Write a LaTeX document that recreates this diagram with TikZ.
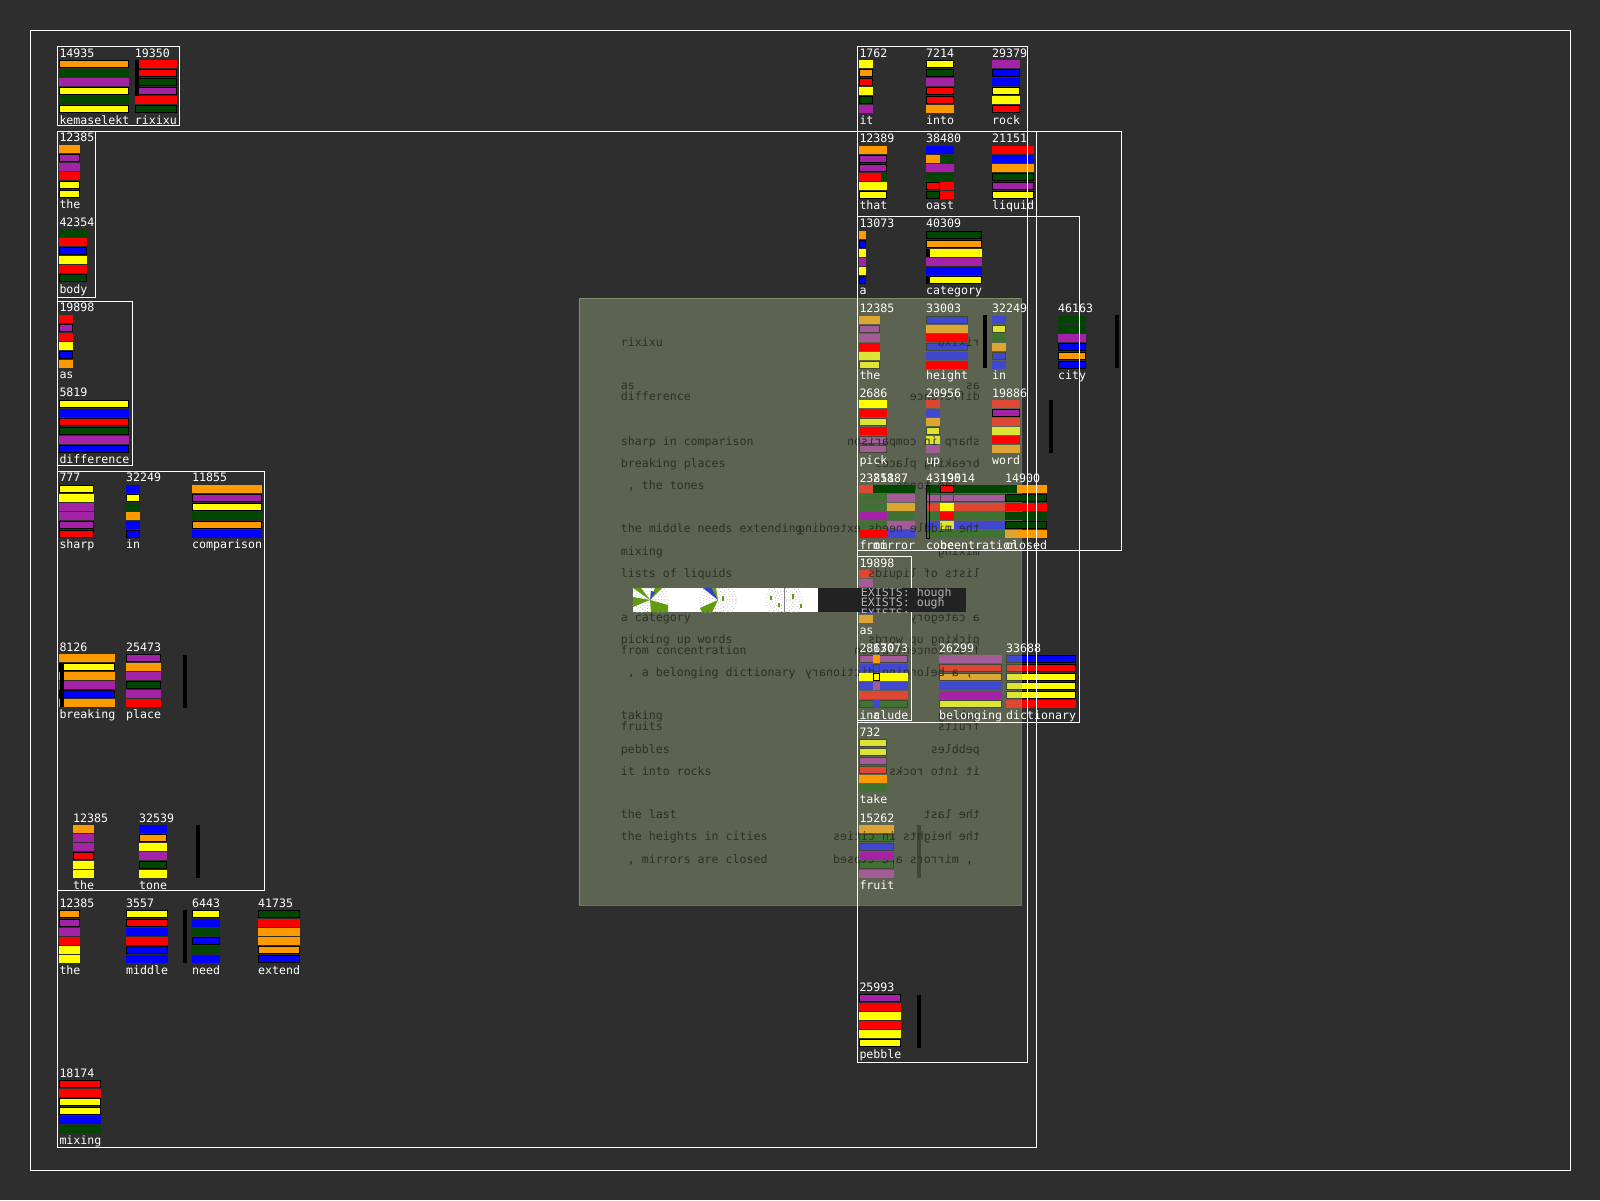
\documentclass[tikz,border=0pt]{standalone}
\usepackage{fontspec}
\newfontfamily\pixfont{DejaVu Sans Mono}
\newcommand{\cellfont}{\pixfont\fontsize{11.6}{12}\selectfont}
\pgfdeclarelayer{bg}
\pgfdeclarelayer{fg}
\pgfsetlayers{bg,main,fg}

\definecolor{bgdark}{HTML}{2E2E2E}
\definecolor{cOr}{HTML}{FF9900}
\definecolor{cDg}{HTML}{004600}
\definecolor{cPu}{HTML}{A322A5}
\definecolor{cYe}{HTML}{FFFF00}
\definecolor{cRe}{HTML}{FF0000}
\definecolor{cBl}{HTML}{0000FF}
\definecolor{ovfill}{RGB}{167,185,136}
\definecolor{ovtext}{HTML}{2C3027}
\definecolor{stripdark}{HTML}{222222}
\definecolor{exgray}{HTML}{B4B4B4}
\definecolor{leaf}{HTML}{629A10}
\definecolor{blu2}{HTML}{3344BB}

\tikzset{
  numtxt/.style={text=white, font=\cellfont, inner sep=0pt, anchor=base west},
  labtxt/.style={numtxt},
  ovtxt/.style={text=ovtext, font=\cellfont, inner sep=0pt, anchor=base west},
  exst/.style={text=exgray, font=\cellfont, inner sep=0pt, anchor=base west},
  boxline/.style={draw=white, line width=1pt},
  needle/.style={fill=black},
}

% one bar: x, top, width, colour, code (odd = outlined, >1 = above the veil)
\newcommand{\barshape}[5]{%
  \fill[#4] (#1,#2) rectangle ++(#3,8);
  \ifodd#5 \draw[black, line width=1pt] (#1+.5,#2+.5) rectangle ++(#3-1,7);\fi}
\newcommand{\cellbar}[5]{%
  \ifnum#5>1
    \begin{pgfonlayer}{fg}\barshape{#1}{#2}{#3}{#4}{#5}\end{pgfonlayer}%
  \else
    \barshape{#1}{#2}{#3}{#4}{#5}%
  \fi}

% word cell: x, y, count, word, bar width, bars
\newcount\cellno
\newcommand{\wcell}[6]{%
  \global\advance\cellno by 1
  \foreach \c/\k [count=\i from 0] in {#6}{\cellbar{#1}{#2+11+9*\i}{#5}{\c}{\k}}
  \begin{pgfonlayer}{fg}
    \node[numtxt] (num\the\cellno) at (#1,#2+8) {#3};
    \node[labtxt] (lab\the\cellno) at (#1,#2+75) {#4};
  \end{pgfonlayer}}

\begin{document}
\begin{tikzpicture}[x=1pt, y=-1pt]
  \begin{pgfonlayer}{bg}
    \fill[bgdark] (0,0) rectangle (1600,1200);
  \end{pgfonlayer}
  \useasboundingbox (0,0) rectangle (1600,1200);

  % left column
  \wcell{59.3}{49.3}{14935}{kemaselekt}{70}{cOr/1, cDg/0, cPu/0, cYe/1, cDg/0, cYe/1}
  \wcell{134.7}{49.3}{19350}{rixixu}{42}{cRe/0, cRe/1, cDg/1, cPu/1, cRe/0, cDg/1}
  \fill[needle] (135,60.3) rectangle (139,96);
  \wcell{59.3}{133.7}{12385}{the}{21}{cOr/0, cPu/1, cPu/0, cRe/0, cYe/1, cYe/1}
  \wcell{59.3}{218.3}{42354}{body}{28}{cDg/0, cRe/0, cBl/1, cYe/0, cRe/0, cDg/1}
  \wcell{59.3}{303.7}{19898}{as}{14}{cRe/0, cPu/1, cRe/0, cYe/0, cBl/1, cOr/0}
  \wcell{59.3}{388.7}{5819}{difference}{70}{cYe/1, cBl/0, cRe/1, cDg/1, cPu/0, cBl/1}
  \wcell{59.3}{473.7}{777}{sharp}{35}{cYe/1, cYe/0, cPu/0, cPu/0, cPu/1, cRe/1}
  \wcell{126}{473.7}{32249}{in}{14}{cBl/0, cYe/1, cDg/0, cOr/0, cBl/0, cBl/1}
  \wcell{192}{473.7}{11855}{comparison}{70}{cOr/0, cPu/1, cYe/1, cDg/0, cOr/1, cBl/0}
  \wcell{59.3}{643.3}{8126}{breaking}{56}{cOr/0, cYe/1, cOr/0, cPu/0, cBl/1, cOr/0}
  \fill[needle] (60,663.3) rectangle (63.5,707.3);
  \wcell{126}{643.3}{25473}{place}{35}{cPu/1, cOr/0, cPu/0, cDg/1, cPu/0, cRe/0}
  \fill[needle] (183.3,655) rectangle (187,708);
  \wcell{73}{814}{12385}{the}{21}{cOr/0, cPu/0, cPu/0, cRe/1, cYe/0, cYe/0}
  \wcell{139}{814}{32539}{tone}{28}{cBl/0, cOr/1, cYe/0, cPu/0, cDg/1, cYe/0}
  \fill[needle] (196,825) rectangle (200,878);
  \wcell{59.3}{899.3}{12385}{the}{21}{cOr/1, cPu/1, cPu/0, cRe/0, cYe/0, cYe/0}
  \wcell{126}{899.3}{3557}{middle}{42}{cYe/1, cRe/1, cBl/0, cRe/0, cBl/1, cBl/0}
  \fill[needle] (183.3,910) rectangle (187,963);
  \wcell{192}{899.3}{6443}{need}{28}{cYe/1, cBl/0, cDg/0, cBl/1, cDg/0, cBl/0}
  \wcell{258}{899.3}{41735}{extend}{42}{cDg/1, cRe/0, cOr/0, cOr/0, cOr/1, cBl/1}
  \wcell{59.3}{1069.3}{18174}{mixing}{42}{cRe/1, cRe/0, cYe/1, cYe/1, cBl/0, cDg/0}

  % right column
  \wcell{859.3}{49.3}{1762}{it}{14}{cYe/0, cOr/1, cRe/1, cYe/0, cDg/1, cPu/0}
  \wcell{926}{49.3}{7214}{into}{28}{cYe/1, cDg/1, cPu/0, cRe/1, cRe/1, cOr/0}
  \wcell{992}{49.3}{29379}{rock}{28}{cPu/0, cBl/1, cBl/0, cYe/1, cYe/0, cRe/1}
  \wcell{859.3}{134.7}{12389}{that}{28}{cOr/0, cPu/1, cPu/1, cRe/0, cYe/0, cYe/1}
  \fill[cDg] (881,172.7) rectangle ++(7,8);
  \wcell{926}{134.7}{38480}{oast}{28}{cBl/0, cDg/0, cPu/0, cDg/0, cRe/0, cRe/0}
  \fill[cOr] (926,154.7) rectangle ++(14,8);
  \draw[black, line width=1pt] (926.5,182.2) rectangle ++(13,7);
  \fill[cDg] (926,190.7) rectangle ++(14,8);
  \draw[black, line width=1pt] (926.5,191.2) rectangle ++(13,7);
  \wcell{992}{134.7}{21151}{liquid}{42}{cRe/0, cBl/0, cOr/0, cDg/1, cPu/1, cYe/1}
  \wcell{859.3}{219.7}{13073}{a}{7}{cOr/0, cBl/1, cYe/0, cPu/0, cYe/0, cBl/1}
  \wcell{926}{219.7}{40309}{category}{56}{cDg/1, cOr/1, cYe/0, cPu/0, cBl/0, cYe/1}
  \fill[needle] (926,248.7) rectangle ++(4,8);
  \fill[needle] (926,275.7) rectangle ++(4,8);
  \wcell{859.3}{304.7}{12385}{the}{21}{cOr/0, cPu/1, cPu/0, cRe/2, cYe/0, cYe/1}
  \wcell{926}{304.7}{33003}{height}{42}{cBl/1, cOr/0, cRe/2, cBl/1, cBl/0, cRe/2}
  \wcell{992}{304.7}{32249}{in}{14}{cBl/0, cYe/1, cDg/0, cOr/0, cBl/1, cBl/0}
  \wcell{1058}{304.7}{46163}{city}{28}{cDg/0, cDg/0, cPu/0, cBl/1, cOr/1, cBl/1}
  \wcell{859.3}{389.3}{2686}{pick}{28}{cYe/2, cRe/2, cYe/1, cRe/2, cPu/1, cPu/1}
  \wcell{926}{389.3}{20956}{up}{14}{cRe/0, cBl/0, cOr/0, cYe/1, cYe/0, cPu/0}
  \wcell{992}{389.3}{19886}{word}{28}{cRe/0, cPu/3, cRe/0, cYe/0, cRe/2, cOr/0}
  \wcell{873}{474.3}{21887}{mirror}{42}{cDg/2, cPu/0, cOr/0, cDg/0, cPu/0, cBl/0}
  \wcell{859.3}{474.3}{23851}{from}{28}{cRe/0, cDg/0, cDg/0, cPu/2, cDg/0, cRe/2}
  \wcell{926}{474.3}{43190}{concentration}{91}{cDg/2, cPu/1, cRe/0, cDg/0, cBl/0, cDg/0}
  \wcell{940}{474.3}{19514}{be}{14}{cRe/3, cPu/1, cYe/2, cRe/2, cYe/0, cDg/0}
  \wcell{1005}{474.3}{14900}{closed}{42}{cDg/2, cDg/3, cRe/2, cDg/2, cDg/3, cOr/0}
  \begin{pgfonlayer}{fg}
    \fill[cOr] (1017,485.3) rectangle (1047,493.3);
    \fill[cOr] (1017,530.3) rectangle (1047,538.3);
    \draw[black, line width=1pt] (926.5,485.8) rectangle (929.5,538.8);
  \end{pgfonlayer}
  \wcell{859.3}{559.3}{19898}{as}{14}{cRe/0, cPu/0, cRe/0, cYe/0, cBl/0, cOr/0}
  \wcell{859.3}{644}{28670}{include}{49}{cPu/1, cBl/0, cYe/2, cBl/0, cRe/0, cDg/1}
  \wcell{873}{644}{13073}{a}{7}{cOr/2, cBl/1, cYe/3, cPu/0, cRe/0, cBl/0}
  \wcell{939}{644}{26299}{belonging}{63}{cPu/0, cRe/1, cOr/1, cBl/0, cPu/2, cYe/1}
  \wcell{1006}{644}{33688}{dictionary}{70}{cBl/1, cRe/1, cYe/1, cYe/1, cYe/1, cRe/0}
  \wcell{859.3}{728.3}{732}{take}{28}{cYe/1, cYe/1, cPu/1, cRe/1, cOr/2, cDg/0}
  \wcell{859.3}{814}{15262}{fruit}{35}{cOr/0, cDg/1, cBl/1, cPu/2, cDg/1, cPu/0}
  \fill[needle] (917,825) rectangle (921,878);
  \wcell{859.3}{983.3}{25993}{pebble}{42}{cPu/1, cRe/0, cYe/0, cRe/0, cYe/0, cYe/1}

  \begin{pgfonlayer}{fg}
    \fill[needle] (983,315) rectangle (987,368);
    \fill[needle] (1115,315) rectangle (1119,368);
    \fill[needle] (1049,400) rectangle (1053,453);
    \fill[needle] (917,995) rectangle (921,1048);
  \end{pgfonlayer}

  % the veil and its lines, once and mirrored
  \fill[ovfill, fill opacity=.386, draw=ovfill, draw opacity=.5]
    (579.3,298.3) rectangle (1020.7,905.3);
  \foreach \yy/\tx [count=\i] in {343/rixixu, 386.7/as, 397.7/difference,
      442.3/sharp in comparison, 464/breaking places, 486/{\ , the tones},
      529.7/the middle needs extending, 552.3/mixing, 574/lists of liquids,
      618/a category, 640/picking up words, 651/from concentration,
      673/{\ , a belonging dictionary}, 716.7/taking, 727.7/fruits,
      750/pebbles, 772/it into rocks, 815.7/the last,
      837.7/the heights in cities, 860/{\ , mirrors are closed}}{
    \node[ovtxt] (ovl\i) at (620.7,\yy+3) {\tx};
    \node[ovtxt, anchor=base east] (ovr\i) at (980,\yy+3) {\reflectbox{\tx}};
  }

  \begin{pgfonlayer}{fg}
    \draw[boxline] (30,30) rectangle (1570,1170);
    \draw[boxline] (57.3,131.7) rectangle (1036,1147);
    \draw[boxline] (57.3,46.3) rectangle (179.7,125.3);
    \draw[boxline] (57.3,131.7) rectangle (95.7,297.3);
    \draw[boxline] (57.3,301.3) rectangle (132.7,465.7);
    \draw[boxline] (57.3,471.7) rectangle (264.7,890);
    \draw[boxline] (857.3,46) rectangle (1027.7,1062.3);
    \draw[boxline] (857.3,131.3) rectangle (1121.7,550);
    \draw[boxline] (857.3,216.3) rectangle (1079.7,722);
    \draw[boxline] (857.3,556) rectangle (911.7,720.7);

    % picture strip
    \fill[white] (632.7,588) rectangle (818.3,612);
    \begin{scope}
      \clip (632.7,588) rectangle (818.3,612);
      \foreach \cx in {650,718,784}
        \foreach \r in {3,6,9,12,15,18}
          \draw[gray!55, dotted, line width=.8pt] (\cx,600) circle (\r pt);
      \fill[leaf] (650,600) -- (633,588) -- (641,588) -- cycle;
      \fill[leaf] (650,600) -- (633,597) -- (633,607) -- cycle;
      \fill[leaf] (650,600) -- (668,605) -- (668,612) -- (651,612) -- cycle;
      \fill[leaf] (650,600) -- (655,588) -- (662,588) -- cycle;
      \fill[blu2] (650,600) -- (651,591) -- (655,592) -- cycle;
      \fill[blu2] (718,600) -- (703,588) -- (712,588) -- cycle;
      \fill[leaf] (718,600) -- (712,588) -- (716,588) -- cycle;
      \fill[leaf] (718,600) -- (700,608) -- (702,612) -- (712,612) -- cycle;
      \fill[leaf] (722,596) rectangle ++(2,5);
      \fill[leaf] (770,596) rectangle ++(2,4);
      \fill[leaf] (778,603) rectangle ++(2,4);
      \fill[leaf] (792,594) rectangle ++(2,5);
      \fill[leaf] (800,604) rectangle ++(2,4);
      \draw[gray, line width=.6pt] (784,588) -- (784,612);
    \end{scope}
    \fill[stripdark] (818.3,588) rectangle (966,612);
    \begin{scope}
      \clip (818.3,588) rectangle (966,612);
      \node[exst] (ex1) at (860.7,596) {EXISTS: hough};
      \node[exst] (ex2) at (860.7,606.7) {EXISTS: ough};
      \node[exst] (ex3) at (860.7,617.4) {EXISTS:};
    \end{scope}
  \end{pgfonlayer}
\end{tikzpicture}
\end{document}
